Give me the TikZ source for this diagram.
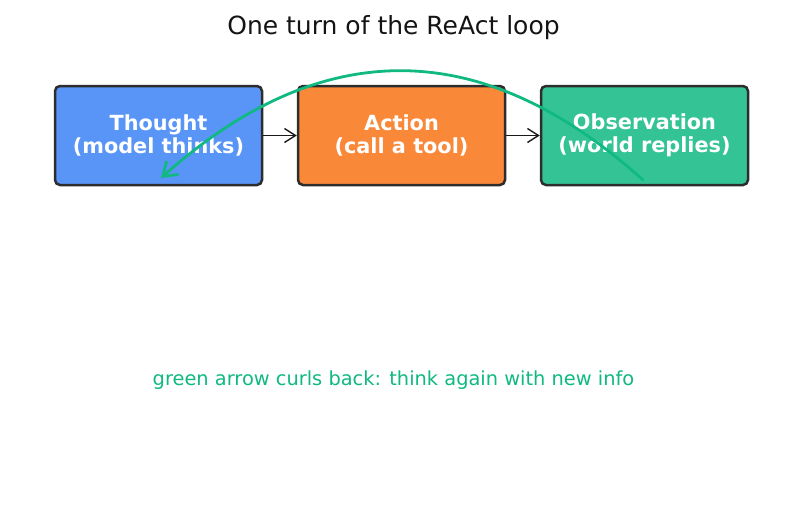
\documentclass[tikz,border=0pt]{standalone}
\usepackage{fontspec}
\setmainfont{DejaVu Sans}
\usetikzlibrary{arrows.meta}
\definecolor{bluebox}{RGB}{88,149,247}
\definecolor{orangebox}{RGB}{250,136,57}
\definecolor{greenbox}{RGB}{52,195,148}
\definecolor{edgegray}{RGB}{45,45,45}
\definecolor{loopgreen}{RGB}{16,185,129}
\definecolor{titleblack}{RGB}{20,20,20}
\tikzset{
  stagebox/.style={draw=edgegray, line width=2.5pt, rounded corners=5pt,
    minimum width=207pt, minimum height=99pt, inner sep=0pt,
    text=white, align=center, font=\fontsize{20.8}{23.5}\selectfont\bfseries},
  flowarrow/.style={draw=black!90, line width=1.4pt, -{Straight Barb[length=11pt,width=14pt]}},
  looparrow/.style={draw=loopgreen, line width=2.8pt, line cap=round, -{Straight Barb[length=13pt,width=18pt]}}
}
\begin{document}
\begin{tikzpicture}[x=1pt,y=-1pt]
\useasboundingbox (0,0) rectangle (787,512);
\node[text=titleblack, font=\fontsize{25}{30}\selectfont] (title) at (393.5,28) {One turn of the ReAct loop};
\node[stagebox, fill=bluebox] (thought) at (158.5,135.5) {Thought\\(model thinks)};
\node[stagebox, fill=orangebox] (action) at (401.5,135.5) {Action\\(call a tool)};
\node[stagebox, fill=greenbox] (obs) at (644.5,135.5) {Observation\\(world replies)};
\draw[flowarrow] (thought.east) -- (action.west);
\draw[flowarrow] (action.east) -- (obs.west);
\coordinate (gs) at (643,180);
\coordinate (ge) at (161,178);
\draw[looparrow] (gs) .. controls (482.3,35.3) and (321.7,34.7) .. (ge);
\node[text=loopgreen, font=\fontsize{19.4}{23}\selectfont] (caption) at (393.5,380) {green arrow curls back: think again with new info};
\end{tikzpicture}
\end{document}
